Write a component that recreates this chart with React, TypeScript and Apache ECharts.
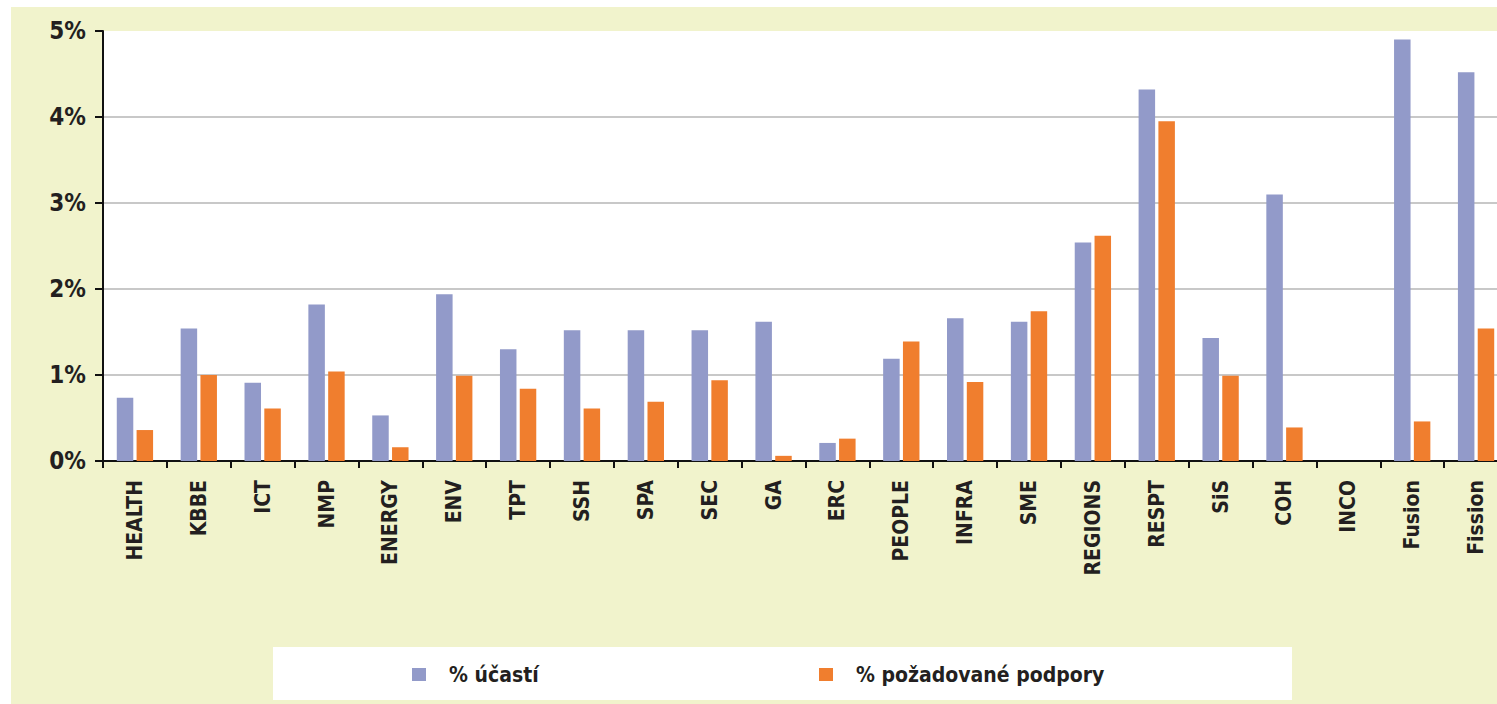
import React, { useEffect, useRef } from "react";
import * as echarts from "echarts";

const categories = [
  "HEALTH", "KBBE", "ICT", "NMP", "ENERGY", "ENV", "TPT", "SSH", "SPA", "SEC", "GA",
  "ERC", "PEOPLE", "INFRA", "SME", "REGIONS", "RESPT", "SiS", "COH", "INCO", "Fusion", "Fission",
];
const participation = [
  0.735, 1.54, 0.91, 1.82, 0.53, 1.94, 1.3, 1.52, 1.52, 1.52, 1.62,
  0.21, 1.19, 1.66, 1.62, 2.54, 4.32, 1.43, 3.1, 0, 4.9, 4.52,
];
const support = [
  0.36, 1.0, 0.61, 1.04, 0.16, 0.99, 0.84, 0.61, 0.69, 0.94, 0.06,
  0.26, 1.39, 0.92, 1.74, 2.62, 3.95, 0.99, 0.39, 0, 0.46, 1.54,
];
const seriesNames = ["% účastí", "% požadované podpory"];

const FONT = '"Liberation Sans Narrow", "DejaVu Sans Condensed", "Arial Narrow", sans-serif';
const TEXT = "#231f20";
const BLUE = "#929ac9";
const ORANGE = "#f07e2e";

export default function App() {
  const ref = useRef<HTMLDivElement>(null);
  useEffect(() => {
    if (!ref.current) return;
    const chart = echarts.init(ref.current, null, { renderer: "svg" });
    const legendText = {
      fontFamily: FONT,
      fontWeight: "bold",
      fontSize: 21,
      color: TEXT,
      padding: [0, 0, 0, 18],
    };
    chart.setOption({
      animation: false,
      backgroundColor: "#ffffff",
      graphic: [
        {
          type: "rect",
          z: -100,
          silent: true,
          shape: { x: 11, y: 7, width: 1510, height: 697 },
          style: { fill: "#f1f3cc" },
        },
        {
          type: "rect",
          z: -90,
          silent: true,
          shape: { x: 273, y: 647, width: 1019, height: 53 },
          style: { fill: "#ffffff" },
        },
      ],
      grid: {
        left: 103,
        top: 31,
        width: 1405,
        height: 430,
        show: true,
        backgroundColor: "#ffffff",
        borderWidth: 0,
      },
      legend: [
        {
          data: [seriesNames[0]],
          left: 412,
          top: 664,
          padding: 0,
          icon: "rect",
          itemWidth: 14,
          itemHeight: 13,
          textStyle: legendText,
        },
        {
          data: [seriesNames[1]],
          left: 819,
          top: 664,
          padding: 0,
          icon: "rect",
          itemWidth: 14,
          itemHeight: 13,
          textStyle: legendText,
        },
      ],
      xAxis: {
        type: "category",
        data: categories,
        axisLine: { lineStyle: { color: "#111", width: 2 } },
        axisTick: { show: true, length: 7, lineStyle: { color: "#111", width: 2 } },
        axisLabel: {
          rotate: 90,
          margin: 19,
          interval: 0,
          fontFamily: FONT,
          fontWeight: "bold",
          fontSize: 21,
          color: TEXT,
        },
        splitLine: { show: false },
      },
      yAxis: {
        type: "value",
        min: 0,
        max: 5,
        interval: 1,
        axisLine: { show: true, lineStyle: { color: "#111", width: 2 } },
        axisTick: { show: true, length: 8, lineStyle: { color: "#111", width: 2 } },
        axisLabel: {
          formatter: "{value}%",
          margin: 17,
          fontFamily: FONT,
          fontWeight: "bold",
          fontSize: 24,
          color: TEXT,
        },
        splitLine: {
          show: true,
          lineStyle: {
            color: ["#c8c8c8", "#c8c8c8", "#c8c8c8", "#c8c8c8", "#c8c8c8", "rgba(0,0,0,0)"],
            width: 2,
          },
        },
      },
      series: [
        {
          name: seriesNames[0],
          type: "bar",
          data: participation,
          barWidth: 16.5,
          barGap: "20%",
          itemStyle: { color: BLUE },
        },
        {
          name: seriesNames[1],
          type: "bar",
          data: support,
          barWidth: 16.5,
          barGap: "20%",
          itemStyle: { color: ORANGE },
        },
      ],
    });
    return () => chart.dispose();
  }, []);
  return (
    <div
      ref={ref}
      style={{ position: "fixed", left: 0, top: 0, width: 1521, height: 704 }}
    />
  );
}
